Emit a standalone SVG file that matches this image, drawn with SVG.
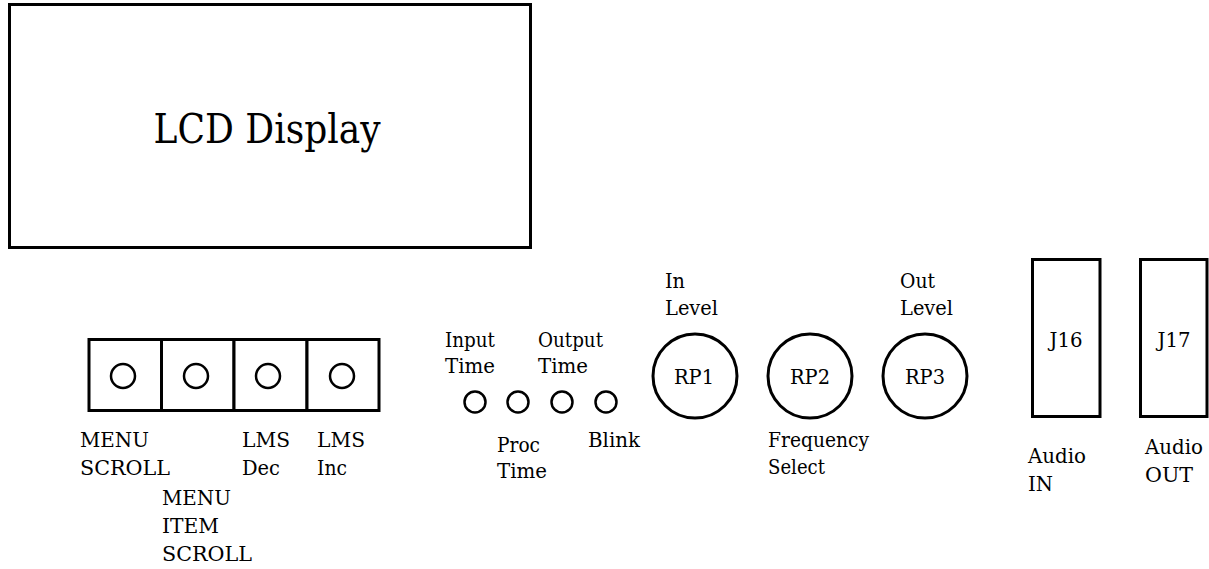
<svg xmlns="http://www.w3.org/2000/svg" width="1209" height="569" viewBox="0 0 1209 569">
  <style>
    .box { fill: #fff; stroke: #000; stroke-width: 3; }
    .ring { fill: none; stroke: #000; stroke-width: 2.5; }
    .knob { fill: #fff; stroke: #000; stroke-width: 3; }
    text { font-family: "DejaVu Serif", "Liberation Serif", serif; font-size: 21px; fill: #000; }
    .mid { text-anchor: middle; }
    .big { font-size: 41px; }
  </style>
  <rect x="0" y="0" width="1209" height="569" fill="#fff"/>

  <!-- LCD panel -->
  <g id="lcd">
    <rect class="box" x="9.5" y="4.5" width="521" height="243"/>
    <text class="big mid" x="267" y="143" textLength="227" lengthAdjust="spacingAndGlyphs">LCD Display</text>
  </g>

  <!-- push buttons -->
  <g id="btn-menu-scroll">
    <rect class="box" x="89" y="339.5" width="72.5" height="71"/>
    <circle class="ring" cx="123" cy="376" r="12"/>
    <text x="80" y="447" textLength="69" lengthAdjust="spacingAndGlyphs">MENU</text>
    <text x="80" y="475" textLength="90" lengthAdjust="spacingAndGlyphs">SCROLL</text>
  </g>
  <g id="btn-menu-item-scroll">
    <rect class="box" x="161.5" y="339.5" width="72.5" height="71"/>
    <circle class="ring" cx="196" cy="376" r="12"/>
    <text x="162" y="505" textLength="69" lengthAdjust="spacingAndGlyphs">MENU</text>
    <text x="162" y="533" textLength="57" lengthAdjust="spacingAndGlyphs">ITEM</text>
    <text x="162" y="561" textLength="90" lengthAdjust="spacingAndGlyphs">SCROLL</text>
  </g>
  <g id="btn-lms-dec">
    <rect class="box" x="234" y="339.5" width="73" height="71"/>
    <circle class="ring" cx="268" cy="376" r="12"/>
    <text x="242" y="447" textLength="48" lengthAdjust="spacingAndGlyphs">LMS</text>
    <text x="242" y="475" textLength="38" lengthAdjust="spacingAndGlyphs">Dec</text>
  </g>
  <g id="btn-lms-inc">
    <rect class="box" x="307" y="339.5" width="72" height="71"/>
    <circle class="ring" cx="342" cy="376" r="12"/>
    <text x="317" y="447" textLength="48" lengthAdjust="spacingAndGlyphs">LMS</text>
    <text x="317" y="475" textLength="30" lengthAdjust="spacingAndGlyphs">Inc</text>
  </g>

  <!-- status LEDs -->
  <g id="led-input-time">
    <circle class="ring" cx="475" cy="402" r="10.5"/>
    <text x="445" y="347" textLength="50" lengthAdjust="spacingAndGlyphs">Input</text>
    <text x="445" y="373" textLength="50" lengthAdjust="spacingAndGlyphs">Time</text>
  </g>
  <g id="led-proc-time">
    <circle class="ring" cx="518" cy="402" r="10.5"/>
    <text x="497" y="452" textLength="43" lengthAdjust="spacingAndGlyphs">Proc</text>
    <text x="497" y="478" textLength="50" lengthAdjust="spacingAndGlyphs">Time</text>
  </g>
  <g id="led-output-time">
    <circle class="ring" cx="562" cy="402" r="10.5"/>
    <text x="538" y="347" textLength="65" lengthAdjust="spacingAndGlyphs">Output</text>
    <text x="538" y="373" textLength="50" lengthAdjust="spacingAndGlyphs">Time</text>
  </g>
  <g id="led-blink">
    <circle class="ring" cx="606" cy="402" r="10.5"/>
    <text x="588" y="447" textLength="52" lengthAdjust="spacingAndGlyphs">Blink</text>
  </g>

  <!-- potentiometers -->
  <g id="rp1">
    <circle class="knob" cx="695" cy="376" r="42"/>
    <text class="mid" x="694" y="384" textLength="40" lengthAdjust="spacingAndGlyphs">RP1</text>
    <text x="665" y="288" textLength="20" lengthAdjust="spacingAndGlyphs">In</text>
    <text x="665" y="315" textLength="53" lengthAdjust="spacingAndGlyphs">Level</text>
  </g>
  <g id="rp2">
    <circle class="knob" cx="810" cy="376" r="42"/>
    <text class="mid" x="810" y="384" textLength="40" lengthAdjust="spacingAndGlyphs">RP2</text>
    <text x="768" y="447" textLength="101" lengthAdjust="spacingAndGlyphs">Frequency</text>
    <text x="768" y="474" textLength="57" lengthAdjust="spacingAndGlyphs">Select</text>
  </g>
  <g id="rp3">
    <circle class="knob" cx="925" cy="376" r="42"/>
    <text class="mid" x="925" y="384" textLength="40" lengthAdjust="spacingAndGlyphs">RP3</text>
    <text x="900" y="288" textLength="35" lengthAdjust="spacingAndGlyphs">Out</text>
    <text x="900" y="315" textLength="53" lengthAdjust="spacingAndGlyphs">Level</text>
  </g>

  <!-- audio jacks -->
  <g id="j16">
    <rect class="box" x="1032.5" y="259.5" width="67.5" height="157"/>
    <text class="mid" x="1066" y="347" textLength="33" lengthAdjust="spacingAndGlyphs">J16</text>
    <text x="1028" y="463" textLength="58" lengthAdjust="spacingAndGlyphs">Audio</text>
    <text x="1028" y="491" textLength="25" lengthAdjust="spacingAndGlyphs">IN</text>
  </g>
  <g id="j17">
    <rect class="box" x="1140.5" y="259.5" width="66.5" height="157"/>
    <text class="mid" x="1174" y="347" textLength="33" lengthAdjust="spacingAndGlyphs">J17</text>
    <text x="1145" y="454" textLength="58" lengthAdjust="spacingAndGlyphs">Audio</text>
    <text x="1145" y="482" textLength="48" lengthAdjust="spacingAndGlyphs">OUT</text>
  </g>

  <g id="connectors"/>
</svg>
